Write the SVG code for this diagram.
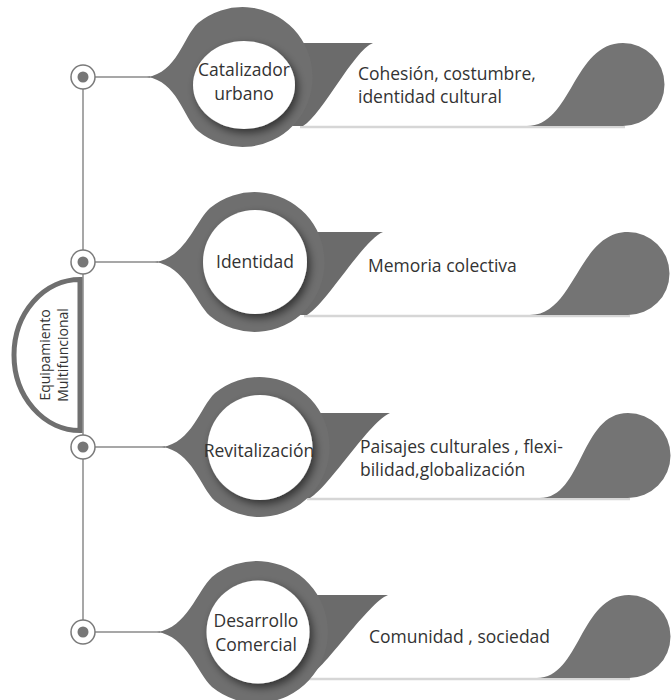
<svg xmlns="http://www.w3.org/2000/svg" width="671" height="700" viewBox="0 0 671 700">
<defs>
<filter id="sh" x="-30%" y="-30%" width="170%" height="170%">
<feDropShadow dx="3" dy="4" stdDeviation="4" flood-color="#000" flood-opacity="0.55"/>
</filter>
<style>
.ring{fill:#6f6f6f}
.dark{fill:#6b6b6b}
.tip{fill:#747474}
.inner{fill:#fff;filter:url(#sh)}
.base{stroke:#d6d6d6;stroke-width:2.5;fill:none}
.lbl{font-family:"Open Sans","Noto Sans",sans-serif;font-size:17.5px;fill:#333}
.mid{text-anchor:middle}
.conn{stroke:#8a8a8a;stroke-width:1.5;fill:none}
.joint{fill:#fff;stroke:#7a7a7a;stroke-width:1.5}
.dot{fill:#777}
</style>
</defs>
<rect width="671" height="700" fill="#fff"/>

<g id="connectors">
<line class="conn" x1="83" y1="77" x2="83" y2="632"/>
<line class="conn" x1="95" y1="77" x2="150" y2="77"/>
<line class="conn" x1="95" y1="262" x2="158" y2="262"/>
<line class="conn" x1="95" y1="447" x2="165" y2="447"/>
<line class="conn" x1="95" y1="632" x2="160" y2="632"/>
</g>

<g id="root">
<path d="M80,279.5 A66 75.5 0 0 0 80,430.5 Z" fill="#fff" stroke="#6f6f6f" stroke-width="5"/>
<g transform="translate(0,355) rotate(-90)">
<text class="mid" x="0" y="50" font-family="Open Sans, Noto Sans, sans-serif" font-size="14" fill="#333">Equipamiento</text>
<text class="mid" x="0" y="68" font-family="Open Sans, Noto Sans, sans-serif" font-size="14" fill="#333">Multifuncional</text>
</g>
</g>

<g id="joints">
<circle class="joint" cx="83" cy="77" r="12"/><circle class="dot" cx="83" cy="77" r="5.5"/>
<circle class="joint" cx="83" cy="262" r="12"/><circle class="dot" cx="83" cy="262" r="5.5"/>
<circle class="joint" cx="83" cy="447" r="12"/><circle class="dot" cx="83" cy="447" r="5.5"/>
<circle class="joint" cx="83" cy="632" r="12"/><circle class="dot" cx="83" cy="632" r="5.5"/>
</g>

<g id="node1">
<line class="base" x1="300" y1="127" x2="625" y2="127"/>
<path class="tip" d="M527,126 C572,126 573,43 623,43 A41.5 41.5 0 0 1 623,126 Z"/>
<path class="dark" d="M243,43 L373,43 C353,51 323,114 303,126 L243,126 Z"/>
<path class="ring" d="M147,77 C177,73 183,37 198,23 A70 70 0 1 1 198,131 C183,117 177,81 147,77 Z"/>
<ellipse class="inner" cx="244" cy="85" rx="51" ry="44"/>
<text class="lbl mid" x="244" y="76">Catalizador</text>
<text class="lbl mid" x="244" y="100">urbano</text>
<text class="lbl" x="358" y="80">Cohesión, costumbre,</text>
<text class="lbl" x="358" y="103">identidad cultural</text>
</g>

<g id="node2">
<line class="base" x1="304" y1="316" x2="630" y2="316"/>
<path class="tip" d="M530,315 C575,315 578,232 628,232 A41.5 41.5 0 0 1 628,315 Z"/>
<path class="dark" d="M255,232 L383,232 C363,240 327,303 307,315 L255,315 Z"/>
<path class="ring" d="M155,262 C185,258 195,222 210,208 A70 70 0 1 1 210,316 C195,302 185,266 155,262 Z"/>
<circle class="inner" cx="255" cy="262" r="52"/>
<text class="lbl mid" x="255" y="268">Identidad</text>
<text class="lbl" x="368" y="272">Memoria colectiva</text>
</g>

<g id="node3">
<line class="base" x1="307" y1="499" x2="630" y2="499"/>
<path class="tip" d="M540,498 C583,498 580,413 628,413 A42.5 42.5 0 0 1 628,498 Z"/>
<path class="dark" d="M260,413 L390,413 C370,421 330,486 310,498 L260,498 Z"/>
<path class="ring" d="M162,447 C192,443 200,407 215,393 A70 70 0 1 1 215,501 C200,487 192,451 162,447 Z"/>
<circle class="inner" cx="260" cy="447.5" r="52.5"/>
<text class="lbl mid" x="259" y="457">Revitalización</text>
<text class="lbl" x="360" y="453">Paisajes culturales , flexi-</text>
<text class="lbl" x="360" y="476">bilidad,globalización</text>
</g>

<g id="node4">
<line class="base" x1="304" y1="679" x2="630" y2="679"/>
<path class="tip" d="M537,678 C580,678 580,595 629,595 A41.5 41.5 0 0 1 629,678 Z"/>
<path class="dark" d="M258,595 L388,595 C368,603 327,666 307,678 L258,678 Z"/>
<path class="ring" d="M157,632 C187,628 197,591 212,577 A71 71 0 1 1 212,687 C197,673 187,636 157,632 Z"/>
<circle class="inner" cx="258" cy="632" r="51.5"/>
<text class="lbl mid" x="256" y="627">Desarrollo</text>
<text class="lbl mid" x="256" y="651">Comercial</text>
<text class="lbl" x="369" y="643">Comunidad , sociedad</text>
</g>
</svg>
